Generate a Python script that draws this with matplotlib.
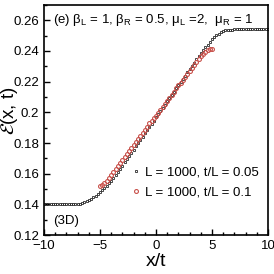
import numpy as np
import matplotlib
matplotlib.use('Agg')
import matplotlib.pyplot as plt
from matplotlib.ticker import MultipleLocator

plt.rcParams['font.family'] = ['Liberation Sans', 'DejaVu Sans']
plt.rcParams['mathtext.fontset'] = 'custom'
plt.rcParams['mathtext.rm'] = 'Liberation Sans'
plt.rcParams['mathtext.it'] = 'Liberation Sans:italic'

# L = 1000, t/L = 0.05  (x/t from -10 to 10, step 0.2)
x_black = np.linspace(-10, 10, 101)
e_black = [0.1400] * 15 + [
    0.1402, 0.1404, 0.1408, 0.1413, 0.1420, 0.1428, 0.1437, 0.1447, 0.1457, 0.1468,
    0.1479, 0.1492, 0.1506, 0.1521, 0.1537, 0.1554, 0.1572, 0.1591, 0.1611, 0.1631,
    0.1652, 0.1673, 0.1694, 0.1715, 0.1736, 0.1757, 0.1778, 0.1799, 0.1820, 0.1841,
    0.1862, 0.1883, 0.1904, 0.1925, 0.1946, 0.1967, 0.1988, 0.2009, 0.2030, 0.2051,
    0.2072, 0.2093, 0.2114, 0.2135, 0.2156, 0.2177, 0.2198, 0.2219, 0.2240, 0.2261,
    0.2282, 0.2303, 0.2324, 0.2345, 0.2366, 0.2386, 0.2405, 0.2424, 0.2442, 0.2459,
    0.2475, 0.2490, 0.2503, 0.2514, 0.2522, 0.2529, 0.2534, 0.2537, 0.2539, 0.2540,
] + [0.2541] * 16

# L = 1000, t/L = 0.1  (x/t from -5 to 5, step 0.2)
x_red = np.linspace(-5, 5, 51)
e_red = [
    0.1520, 0.1528, 0.1540, 0.1555, 0.1572, 0.1590, 0.1609, 0.1629, 0.1649, 0.1669,
    0.1689, 0.1709, 0.1729, 0.1749, 0.1769, 0.1789, 0.1808, 0.1828, 0.1847, 0.1866,
    0.1885, 0.1905, 0.1928, 0.1946, 0.1960, 0.1975, 0.1993, 0.2012, 0.2032, 0.2052,
    0.2072, 0.2092, 0.2112, 0.2133, 0.2156, 0.2176, 0.2193, 0.2212, 0.2232, 0.2252,
    0.2272, 0.2292, 0.2311, 0.2330, 0.2349, 0.2366, 0.2381, 0.2394, 0.2405, 0.2412,
    0.2416,
]

labels = ['L = 1000, t/L = 0.05', 'L = 1000, t/L = 0.1']

fig = plt.figure(figsize=(2.74, 2.74), dpi=100)
ax = fig.add_axes([0.1606, 0.1423, 0.8174, 0.8395])

ax.plot(x_black, e_black, 's', ms=2.1, mfc='none', mec='#2a2a2a', mew=0.6,
        label=labels[0])
ax.plot(x_red, e_red, 'o', ms=2.8, mfc='none', mec='#c8504a', mew=0.8,
        label=labels[1])

ax.set_xlim(-10, 10)
ax.set_ylim(0.12, 0.27)
ax.set_xticks([-10, -5, 0, 5, 10])
ax.set_yticks([0.12, 0.14, 0.16, 0.18, 0.2, 0.22, 0.24, 0.26])
ax.set_yticklabels(['0.12', '0.14', '0.16', '0.18', '0.2', '0.22', '0.24', '0.26'])
ax.xaxis.set_minor_locator(MultipleLocator(1))
ax.yaxis.set_minor_locator(MultipleLocator(0.01))
ax.tick_params(which='both', direction='in', top=False, right=False,
               labelsize=9.5, width=1)
ax.tick_params(which='major', length=4)
ax.tick_params(which='minor', length=2)
for s in ax.spines.values():
    s.set_linewidth(1.2)

ax.set_xlabel('x/t', fontsize=14, labelpad=1)
ax.set_ylabel(r'$\mathcal{E}$(x, t)', fontsize=13.5, math_fontfamily='stix')
ax.yaxis.set_label_coords(-0.105, 0.54)

ax.text(0.04, 0.97, r'(e) $\mathrm{\beta}_\mathrm{L}$ = 1, $\mathrm{\beta}_\mathrm{R}$ = 0.5, '
        r'$\mathrm{\mu}_\mathrm{L}$ =2,  $\mathrm{\mu}_\mathrm{R}$ = 1',
        transform=ax.transAxes, fontsize=9.5, va='top', ha='left')
ax.text(0.04, 0.06, '(3D)', transform=ax.transAxes, fontsize=9.5,
        va='center', ha='left')

ax.legend(loc='lower right', bbox_to_anchor=(1.0, 0.12), frameon=False,
          fontsize=9.5, handlelength=0.6, handletextpad=0.4, labelspacing=0.55,
          borderaxespad=0.3, markerscale=1.0)

fig.savefig('out.png', dpi=100)
